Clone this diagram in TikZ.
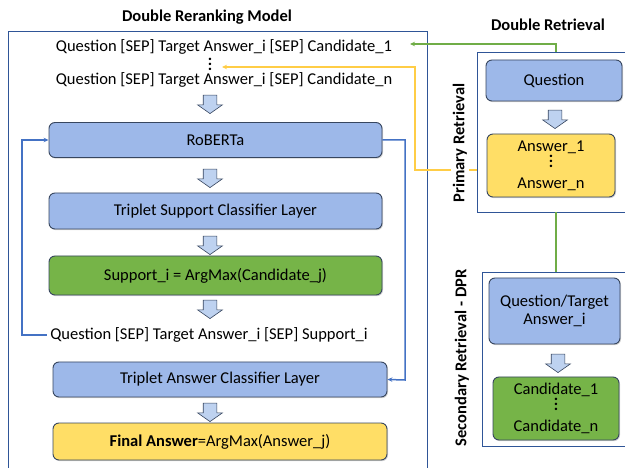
\documentclass[tikz,border=0pt]{standalone}
\usepackage{fontspec}
\setmainfont{Carlito}
\usepackage{tikz}
\usetikzlibrary{arrows.meta,shapes.arrows,shadows}

\definecolor{boxblue}{RGB}{157,184,233}
\definecolor{boxgreen}{RGB}{118,180,72}
\definecolor{boxyellow}{RGB}{255,222,102}
\definecolor{edgegray}{RGB}{55,70,95}
\definecolor{frameblue}{RGB}{47,85,151}
\definecolor{lineblue}{RGB}{68,114,196}
\definecolor{linegreen}{RGB}{112,173,71}
\definecolor{lineyellow}{RGB}{255,205,70}
\definecolor{arrowfill}{RGB}{190,210,240}

\newcommand{\dotcol}{\vbox{\baselineskip5pt\lineskiplimit0pt
  \hbox{\bfseries .}\hbox{\bfseries .}\hbox{\bfseries .}}}

\begin{document}
\begin{tikzpicture}[x=1pt,y=-1pt,
  every node/.style={font=\fontsize{16.5}{18}\selectfont},
  box/.style={draw=edgegray,line width=0.9pt,rounded corners=6pt,align=center,
              inner sep=1pt,
              drop shadow={shadow xshift=1pt,shadow yshift=-1.2pt,opacity=0.35}},
  frame/.style={draw=frameblue,line width=0.8pt,inner sep=0pt},
  down/.style={single arrow,draw=edgegray,line width=0.6pt,fill=arrowfill,
               shape border rotate=270,minimum height=15pt,
               single arrow head extend=5.5pt,single arrow tip angle=110,inner sep=6.5pt},
  lbl/.style={font=\fontsize{16.5}{18}\selectfont\bfseries},
  link/.style={-{Stealth[length=5pt,width=4.5pt]},line width=1.5pt}]

  \useasboundingbox (0,0) rectangle (625,468);

  % frames and titles
  \node[frame,minimum width=419pt,minimum height=448pt] (rerank) at (217.5,255) {};
  \node[frame,minimum width=158pt,minimum height=160pt] (prim) at (556,132) {};
  \node[frame,minimum width=148pt,minimum height=174pt] (sec) at (556,359) {};
  \node[lbl] (ttl) at (207,17) {Double Reranking Model};
  \node[lbl] (ttr) at (548,25) {Double Retrieval};

  % double reranking model
  \node (q1) at (224,47) {Question [SEP] Target Answer\_i [SEP] Candidate\_1};
  \node[inner sep=0pt] (qdots) at (210,64) {\dotcol};
  \node (qn) at (224,80) {Question [SEP] Target Answer\_i [SEP] Candidate\_n};
  \node[down] (a1) at (210,102) {};

  \node[box,fill=boxblue,minimum width=333pt,minimum height=35pt] (rob) at (215.5,140) {RoBERTa};
  \node[down] (a2) at (210,176) {};
  \node[box,fill=boxblue,minimum width=333pt,minimum height=36pt] (tsc) at (215.5,211) {Triplet Support Classifier Layer};
  \node[down] (a3) at (210,243) {};
  \node[box,fill=boxgreen,minimum width=333pt,minimum height=39pt] (sup) at (215.5,275.5) {Support\_i = ArgMax(Candidate\_j)};
  \node[down] (a4) at (210,307) {};
  \node (sq) at (209,335) {Question [SEP] Target Answer\_i [SEP] Support\_i};
  \node[box,fill=boxblue,minimum width=334pt,minimum height=35pt] (tac) at (220,379.5) {Triplet Answer Classifier Layer};
  \node[down] (a5) at (210,410) {};
  \node[box,fill=boxyellow,minimum width=334pt,minimum height=37pt] (fin) at (220,441.5) {\textbf{Final Answer}=ArgMax(Answer\_j)};

  \coordinate (lft) at (22,140);
  \coordinate (rgt) at (405,380);
  \draw[link,lineblue] (sq.west) -| (lft) -- (rob.west);
  \draw[link,lineblue] (rob.east) -| (rgt) -- (tac.east);

  % primary retrieval
  \node[box,fill=boxblue,minimum width=136pt,minimum height=41pt] (pq) at (554,80.5) {Question};
  \node[down] (a6) at (555,117) {};
  \node[box,fill=boxyellow,minimum width=128pt,minimum height=63pt] (ans) at (551,165.5)
    {Answer\_1\\[-2pt]\dotcol\\[3pt]Answer\_n};

  % secondary retrieval
  \node[box,fill=boxblue,minimum width=131pt,minimum height=66pt] (qt) at (554.5,311) {Question/Target\\Answer\_i};
  \node[down] (a7) at (558,361) {};
  \node[box,fill=boxgreen,minimum width=126pt,minimum height=63pt] (cand) at (556,408.5)
    {Candidate\_1\\[-2pt]\dotcol\\[3pt]Candidate\_n};

  % links between the parts
  \coordinate (gtip) at (410,44);
  \coordinate (ybend) at (415,67);
  \coordinate (ytip) at (222,67);
  \draw[link,linegreen] (prim.north) |- (gtip);
  \draw[linegreen,line width=1.5pt] (prim.south) -- (sec.north);
  \draw[link,lineyellow] ([yshift=-4.5pt]ans.west -| prim.west) -| (ybend) -- (ytip);

  \node[lbl,rotate=90,fill=white,inner sep=2pt] (plbl) at (460,143) {Primary Retrieval};
  \node[lbl,rotate=90,fill=white,inner sep=2pt] (slbl) at (462,358) {Secondary Retrieval - DPR};

\end{tikzpicture}
\end{document}
